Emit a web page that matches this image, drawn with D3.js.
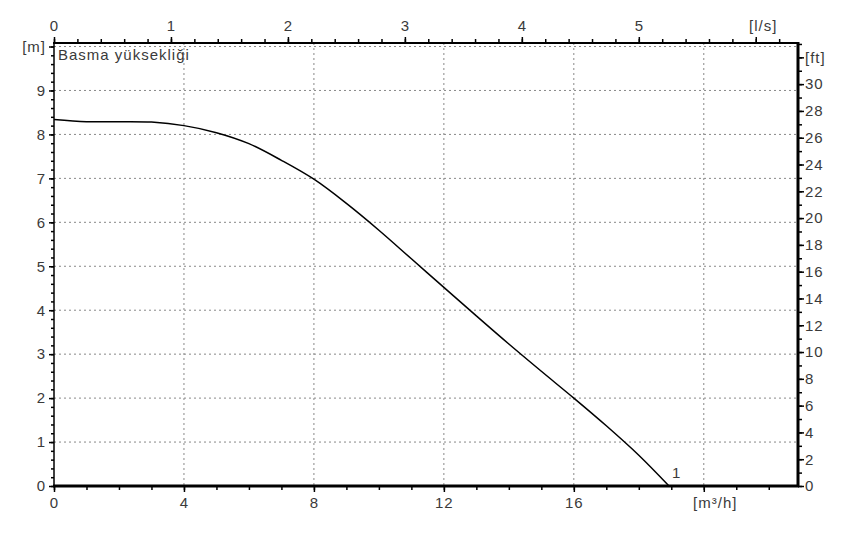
<!DOCTYPE html>
<html>
<head>
<meta charset="utf-8">
<script src="https://cdn.jsdelivr.net/npm/d3@7"></script>
<style>
  body { margin: 0; background: #fff; }
  svg { display: block; }
  .lbl text { font-family: "Liberation Sans", Arial, sans-serif; font-size: 15px; fill: #3a3a3a; letter-spacing: 1px; }
  .grid line { stroke: #888; stroke-width: 1; stroke-dasharray: 2,3; }
</style>
</head>
<body>
<svg id="main" width="845" height="539"></svg>
<script>
// pump curve, flow [m3/h] vs head [m]
const flow = [0, 1, 2, 3, 4, 5, 6, 7, 8, 9, 10, 11, 12, 13, 14, 15, 16, 17, 18, 18.93];
const head = [8.34, 8.29, 8.29, 8.28, 8.20, 8.04, 7.79, 7.41, 6.98, 6.43, 5.82, 5.17, 4.52, 3.87, 3.23, 2.61, 2.0, 1.37, 0.70, 0];
const curveName = "1";
const title = "Basma yüksekliği";

const flowTicks = [0, 4, 8, 12, 16, 20];
const flowLabels = ["0", "4", "8", "12", "16", "[m³/h]"];
const lsTicks = [0, 1, 2, 3, 4, 5, 6];
const lsLabels = ["0", "1", "2", "3", "4", "5", "[l/s]"];
const headTicks = [0, 1, 2, 3, 4, 5, 6, 7, 8, 9, 10];
const headLabels = ["0", "1", "2", "3", "4", "5", "6", "7", "8", "9", "[m]"];
const ftTicks = d3.range(0, 34, 2);
const ftLabels = ftTicks.map(d => d === 32 ? "[ft]" : String(d));

const pL = 54, pR = 798, pT = 43, pB = 486;
const xMax = 22.9, yMax = 10.08;

const svg = d3.select('#main');
const x = d3.scaleLinear().domain([0, xMax]).range([pL, pR]);
const xLs = d3.scaleLinear().domain([0, xMax / 3.6]).range([pL, pR]);
const y = d3.scaleLinear().domain([0, yMax]).range([pB, pT]);
const yFt = d3.scaleLinear().domain([0, yMax / 0.3048]).range([pB, pT]);

// grid
const grid = svg.append('g').attr('class', 'grid');
grid.selectAll('.h').data(headTicks.slice(1)).enter().append('line')
  .attr('x1', pL).attr('x2', pR).attr('y1', d => y(d)).attr('y2', d => y(d));
grid.selectAll('.v').data(flowTicks.slice(1)).enter().append('line')
  .attr('y1', pT).attr('y2', pB).attr('x1', d => x(d)).attr('x2', d => x(d));

function minor(g, w) {
  g.select('.domain').remove();
  g.selectAll('.tick line').attr('stroke', '#000').attr('stroke-width', w);
}

// minor ticks
svg.append('g').attr('transform', `translate(0,${pB})`)
  .call(d3.axisBottom(x).tickValues(d3.range(0, 23, 1)).tickSize(4).tickFormat(''))
  .call(minor, 1.5);
svg.append('g').attr('transform', `translate(0,${pT})`)
  .call(d3.axisTop(xLs).tickValues(d3.range(0, 6.4, 0.2)).tickSize(4).tickFormat(''))
  .call(minor, 1.5);
svg.append('g').attr('transform', `translate(${pL},0)`)
  .call(d3.axisLeft(y).tickValues(d3.range(0, 10.1, 0.2)).tickSize(3).tickFormat(''))
  .call(minor, 1.5);
svg.append('g').attr('transform', `translate(${pR},0)`)
  .call(d3.axisRight(yFt).tickValues(d3.range(0, 34, 1)).tickSize(4).tickFormat(''))
  .call(minor, 1.5);

// major ticks + labels
function major(g, w) {
  g.attr('class', 'lbl');
  g.select('.domain').remove();
  g.selectAll('.tick line').attr('stroke', '#000').attr('stroke-width', w);
}
const axB = svg.append('g').attr('transform', `translate(0,${pB})`)
  .call(d3.axisBottom(x).tickValues(flowTicks).tickSize(6).tickPadding(5)
    .tickFormat((d, i) => flowLabels[i]))
  .call(major, 1.5);
axB.selectAll('.tick text').filter((d, i) => i === flowTicks.length - 1).attr('dx', 11);

const axT = svg.append('g').attr('transform', `translate(0,${pT})`)
  .call(d3.axisTop(xLs).tickValues(lsTicks).tickSize(6).tickPadding(6)
    .tickFormat((d, i) => lsLabels[i]))
  .call(major, 1.5);
axT.selectAll('.tick text').filter((d, i) => i === lsTicks.length - 1).attr('dx', 7);

svg.append('g').attr('transform', `translate(${pL},0)`)
  .call(d3.axisLeft(y).tickValues(headTicks).tickSize(5).tickPadding(3)
    .tickFormat((d, i) => headLabels[i]))
  .call(major, 1.5);

svg.append('g').attr('transform', `translate(${pR},0)`)
  .call(d3.axisRight(yFt).tickValues(ftTicks).tickSize(6).tickPadding(1)
    .tickFormat((d, i) => ftLabels[i]))
  .call(major, 1.5);

// frame
svg.append('line').attr('x1', pL).attr('x2', pL).attr('y1', pT).attr('y2', pB)
  .attr('stroke', '#000').attr('stroke-width', 1.5);
svg.append('line').attr('x1', pL - 1).attr('x2', pR + 1).attr('y1', pT).attr('y2', pT)
  .attr('stroke', '#000').attr('stroke-width', 2);
svg.append('line').attr('x1', pL - 1).attr('x2', pR + 1).attr('y1', pB).attr('y2', pB)
  .attr('stroke', '#000').attr('stroke-width', 3);
svg.append('line').attr('x1', pR).attr('x2', pR).attr('y1', pT - 1).attr('y2', pB + 1)
  .attr('stroke', '#000').attr('stroke-width', 3);

// curve
const pts = flow.map((q, i) => [q, head[i]]);
svg.append('path').datum(pts)
  .attr('fill', 'none').attr('stroke', '#000').attr('stroke-width', 1.5)
  .attr('d', d3.line().x(d => x(d[0])).y(d => y(d[1])).curve(d3.curveCatmullRom.alpha(0.5)));

const lab = svg.append('g').attr('class', 'lbl');
lab.append('text').attr('x', x(flow[flow.length - 1]) + 3).attr('y', pB - 8).text(curveName);
lab.append('text').attr('x', pL + 4).attr('y', pT + 17).attr('letter-spacing', 1.3)
  .text(title);
</script>
</body>
</html>
